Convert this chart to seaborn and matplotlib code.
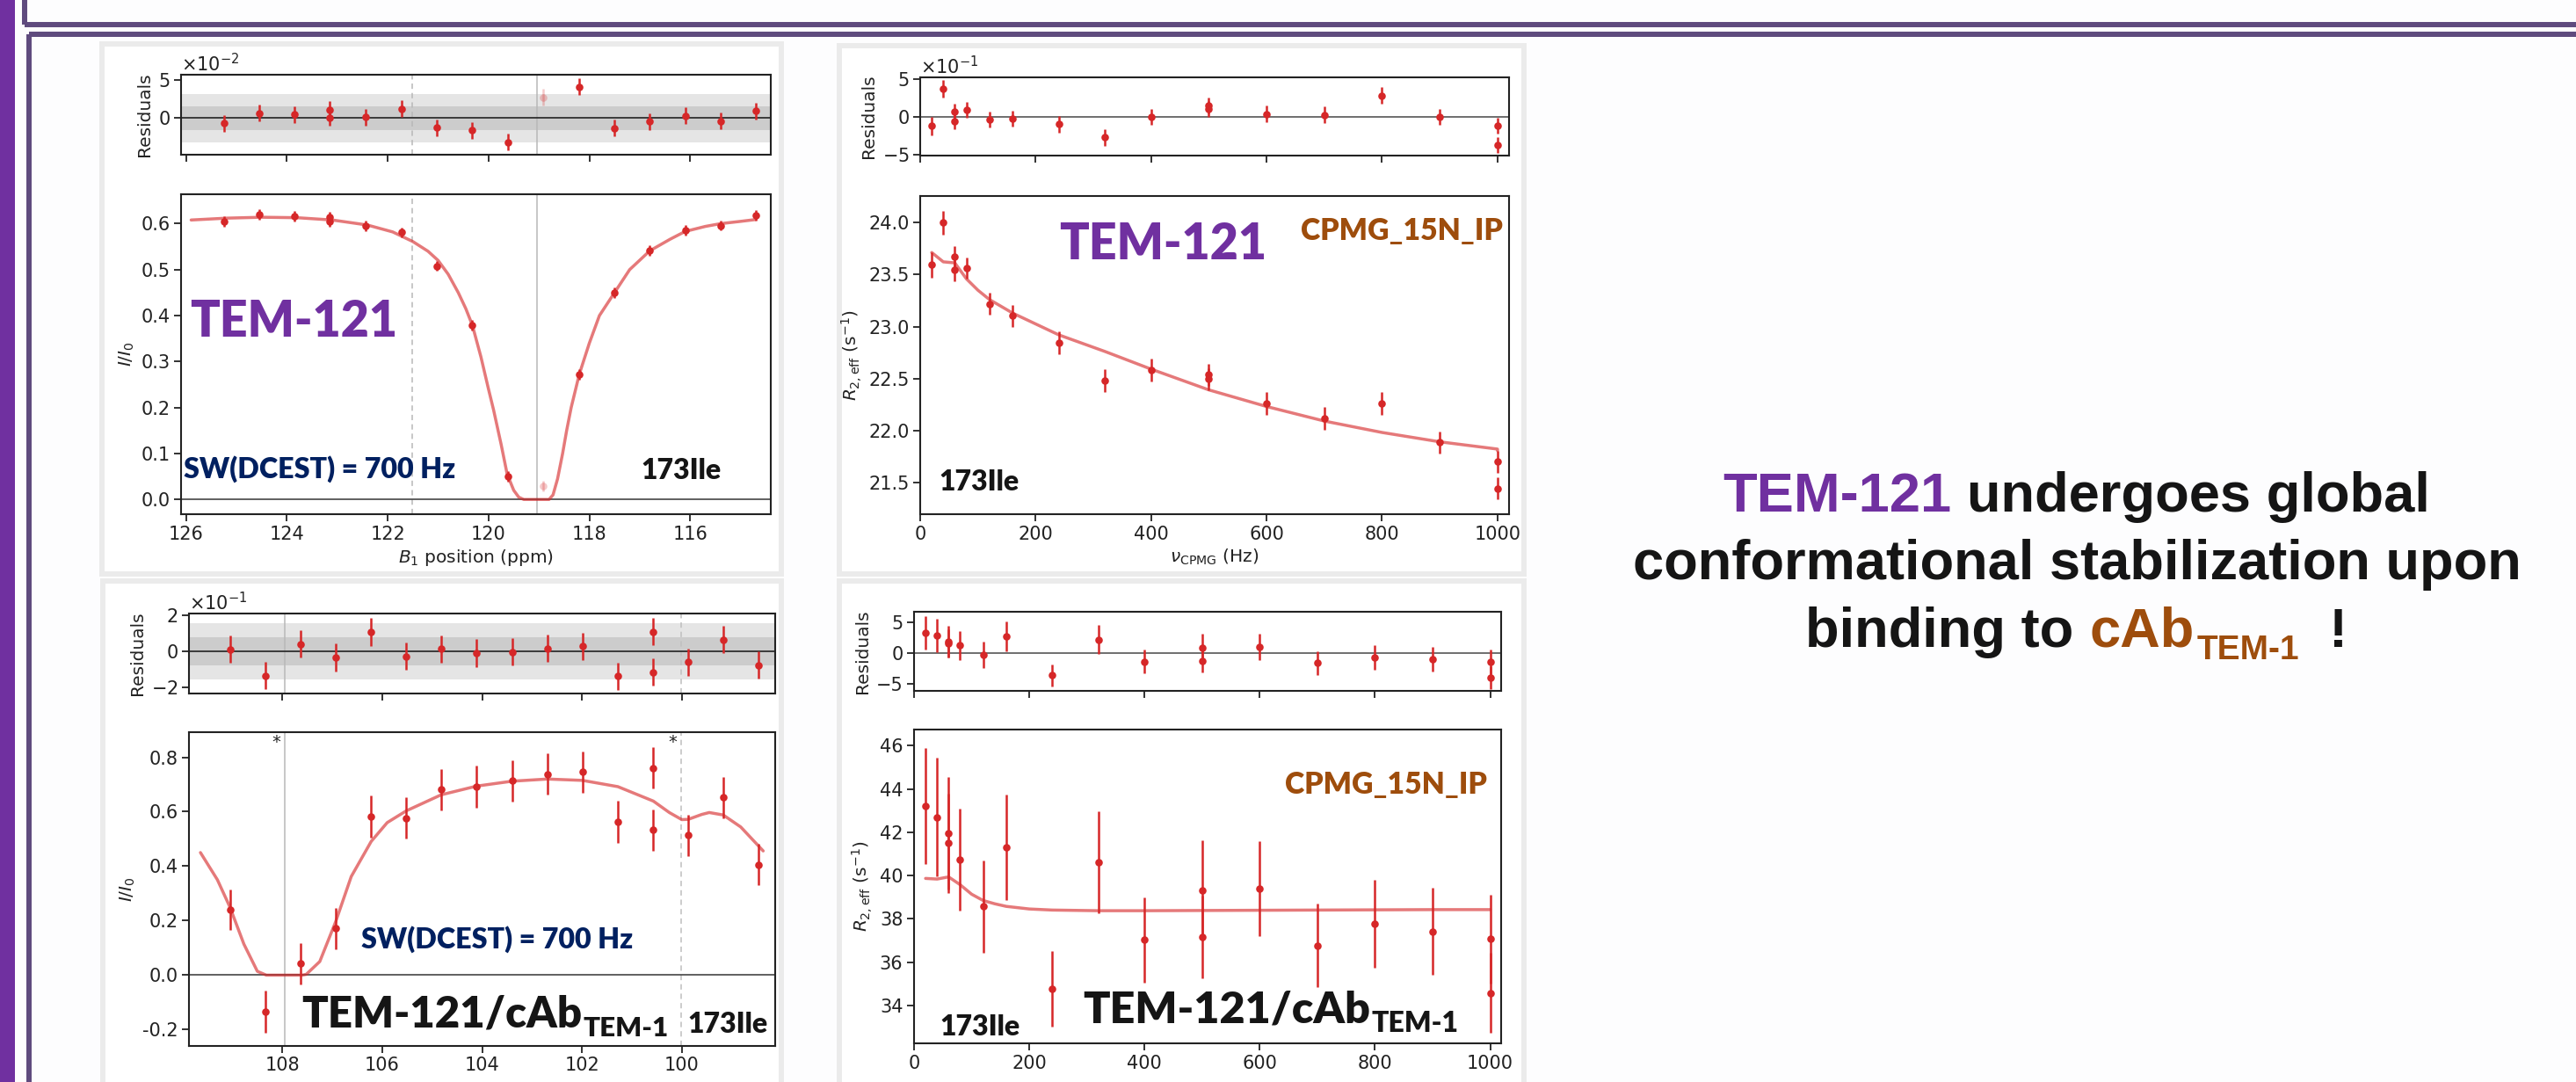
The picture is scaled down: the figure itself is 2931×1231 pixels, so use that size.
import numpy as np
import pandas as pd
import matplotlib
matplotlib.use("Agg")
import matplotlib.pyplot as plt
import seaborn as sns
from matplotlib.patches import Rectangle
from matplotlib.lines import Line2D
from matplotlib.ticker import MultipleLocator, ScalarFormatter, FormatStrFormatter
from matplotlib.transforms import offset_copy

# ---------------- data ----------------
# Panel A: DCEST, TEM-121 (free)
a_ppm = [125.24, 124.55, 123.85, 123.15, 123.15, 122.44, 121.72, 121.02, 120.32,
         119.62, 118.20, 117.50, 116.80, 116.10, 115.40, 114.69]
a_int = [0.605, 0.620, 0.616, 0.615, 0.605, 0.595, 0.581, 0.508, 0.379,
         0.050, 0.272, 0.450, 0.542, 0.586, 0.596, 0.618]
a_err = [0.011, 0.011, 0.011, 0.011, 0.011, 0.011, 0.011, 0.011, 0.011,
         0.011, 0.011, 0.011, 0.011, 0.011, 0.011, 0.011]
a_res = [-0.0068, 0.0068, 0.0050, 0.0109, 0.0009, 0.0014, 0.0123, -0.0123, -0.0159,
         -0.0314, 0.0409, -0.0127, -0.0045, 0.0032, -0.0036, 0.0095]
a_ex_ppm = [118.92]
a_ex_int = [0.029]
a_ex_res = [0.0273]
a_ex_err = [0.011]
a_fit_ppm = [125.9, 125.2, 124.5, 123.8, 123.1, 122.4, 121.9, 121.5, 121.2, 121.0, 120.8,
             120.6, 120.45, 120.32, 120.15, 120.0, 119.9, 119.75, 119.63, 119.5, 119.4,
             119.3, 118.8, 118.72, 118.63, 118.53, 118.45, 118.36, 118.2, 118.0, 117.8,
             117.5, 117.2, 116.8, 116.4, 116.1, 115.7, 115.4, 115.0, 114.7]
a_fit_int = [0.608, 0.612, 0.614, 0.613, 0.608, 0.597, 0.582, 0.561, 0.540, 0.520, 0.490,
             0.450, 0.415, 0.379, 0.310, 0.240, 0.195, 0.120, 0.055, 0.020, 0.005,
             0.0, 0.0, 0.010, 0.045, 0.100, 0.150, 0.200, 0.272, 0.340, 0.400,
             0.450, 0.500, 0.541, 0.566, 0.583, 0.594, 0.600, 0.605, 0.609]
a_band1, a_band2 = 0.0159, 0.0318
a_vsolid, a_vdash = 119.04, 121.51

# Panel B: CPMG, TEM-121 (free)
b_nu = [20, 40, 60, 60, 80, 120, 160, 240, 320, 400, 500, 500, 600, 700, 800, 900, 1000, 1000]
b_r2 = [23.593, 24.000, 23.673, 23.543, 23.563, 23.219, 23.102, 22.842, 22.481, 22.585,
        22.535, 22.495, 22.258, 22.114, 22.258, 21.884, 21.700, 21.440]
b_err = [0.12, 0.117, 0.105, 0.105, 0.105, 0.105, 0.105, 0.108, 0.11, 0.11,
         0.105, 0.105, 0.108, 0.11, 0.108, 0.105, 0.105, 0.105]
b_res = [-0.120, 0.380, 0.069, -0.060, 0.097, -0.032, -0.023, -0.097, -0.273, 0.000,
         0.153, 0.111, 0.042, 0.028, 0.287, 0.000, -0.111, -0.370]
b_fit_nu = [20, 40, 60, 80, 100, 120, 160, 240, 320, 400, 500, 600, 700, 800, 900, 1000, 1000]
b_fit_r2 = [23.713, 23.623, 23.613, 23.460, 23.350, 23.260, 23.130, 22.920, 22.760, 22.590,
            22.390, 22.230, 22.090, 21.980, 21.890, 21.820, 21.805]

# Panel C: DCEST, TEM-121 / cAb complex
c_ppm = [109.05, 108.34, 107.64, 106.93, 106.22, 105.52, 104.82, 104.11, 103.40,
         102.69, 101.99, 101.28, 100.57, 100.57, 99.87, 99.17, 98.46]
c_int = [0.240, -0.133, 0.042, 0.172, 0.583, 0.576, 0.681, 0.692, 0.714,
         0.738, 0.746, 0.563, 0.760, 0.533, 0.514, 0.652, 0.405]
c_err = [0.075, 0.077, 0.076, 0.076, 0.078, 0.076, 0.076, 0.076, 0.076,
         0.076, 0.076, 0.076, 0.076, 0.076, 0.076, 0.076, 0.076]
c_res = [0.011, -0.134, 0.042, -0.033, 0.110, -0.027, 0.014, -0.009, -0.002,
         0.016, 0.029, -0.137, 0.110, -0.114, -0.060, 0.065, -0.076]
c_fit_ppm = [109.64, 109.3, 109.05, 108.77, 108.5, 108.32, 107.6, 107.52, 107.25, 106.93,
             106.62, 106.22, 105.9, 105.52, 104.82, 104.11, 103.40, 102.69, 101.99, 101.28,
             100.57, 100.25, 100.0, 99.87, 99.6, 99.45, 99.17, 98.82, 98.37]
c_fit_int = [0.450, 0.350, 0.250, 0.114, 0.014, 0.0, 0.0, 0.003, 0.050, 0.197,
             0.362, 0.491, 0.560, 0.603, 0.662, 0.694, 0.712, 0.720, 0.715, 0.692,
             0.639, 0.597, 0.571, 0.572, 0.590, 0.597, 0.588, 0.544, 0.456]
c_band1, c_band2 = 0.078, 0.155
c_vsolid, c_vdash = 107.96, 100.02

# Panel D: CPMG, TEM-121 / cAb complex
d_nu = [20, 40, 60, 60, 80, 120, 160, 240, 320, 400, 500, 500, 600, 700, 800, 900, 1000, 1000]
d_r2 = [43.22, 42.70, 41.94, 41.49, 40.75, 38.57, 41.30, 34.77, 40.62, 37.03,
        39.32, 37.16, 39.41, 36.78, 37.77, 37.43, 37.08, 34.58]
d_err = [2.67, 2.73, 2.60, 2.30, 2.35, 2.12, 2.42, 1.75, 2.34, 1.96,
         2.32, 1.90, 2.19, 1.94, 2.03, 2.02, 2.05, 1.85]
d_res = [3.30, 2.83, 1.88, 1.62, 1.26, -0.31, 2.72, -3.61, 2.20, -1.36,
         0.89, -1.26, 0.99, -1.62, -0.68, -0.99, -1.41, -3.93]
d_fit_nu = [20, 40, 60, 80, 100, 120, 140, 160, 200, 240, 320, 400, 500, 600, 700, 800, 900, 1000]
d_fit_r2 = [39.87, 39.84, 39.94, 39.58, 39.14, 38.85, 38.70, 38.58, 38.46, 38.41, 38.38,
            38.38, 38.39, 38.40, 38.41, 38.42, 38.43, 38.43]

# ---------------- style ----------------
RED = '#d62728'
PURPLE = '#7030a0'
BROWN = '#9e4d0c'
NAVY = '#002060'
DARK = '#151515'
FRAME = '#5f4b7e'
TICK_FS = 15
LAB_FS = 14.5

sns.set_theme(style='ticks', rc={
    'axes.linewidth': 1.5, 'axes.edgecolor': '#222222',
    'xtick.major.width': 1.3, 'ytick.major.width': 1.3,
    'xtick.major.size': 5.5, 'ytick.major.size': 5.5,
    'xtick.labelsize': TICK_FS, 'ytick.labelsize': TICK_FS, 'axes.labelsize': LAB_FS,
    'xtick.color': '#222222', 'ytick.color': '#222222',
    'axes.labelcolor': '#222222', 'text.color': '#222222',
})
plt.rcParams['font.family'] = ['DejaVu Sans']
CAL = ['Lato', 'DejaVu Sans']
ARIAL = ['Liberation Sans', 'DejaVu Sans']
BIGW = 'heavy'

W, H = 2931, 1231
fig = plt.figure(figsize=(W / 100, H / 100), dpi=100, facecolor='#fdfdfe')
renderer = fig.canvas.get_renderer()


def fx(x):
    return x / W


def fy(y):
    return 1 - y / H


def rect(x0, y0, x1, y1):
    return [x0 / W, 1 - y1 / H, (x1 - x0) / W, (y1 - y0) / H]


# ---- slide decoration ----
fig.add_artist(Rectangle((0, 0), fx(17), 1, transform=fig.transFigure,
                         facecolor=PURPLE, edgecolor='none', zorder=-5))
for xs, ys in [([fx(28), 1.0], [fy(28), fy(28)]), ([fx(28), fx(28)], [1.0, fy(28)]),
               ([fx(32.5), 1.0], [fy(39), fy(39)]), ([fx(32.5), fx(32.5)], [fy(39), 0.0])]:
    fig.add_artist(Line2D(xs, ys, transform=fig.transFigure, color=FRAME, lw=4.3,
                          solid_capstyle='butt', zorder=-4))
for (x0, y0, x1, y1) in [(116, 50, 889, 653), (955, 52, 1734, 653),
                         (117, 661, 889, 1245), (955, 661, 1734, 1245)]:
    fig.add_artist(Rectangle((fx(x0), fy(y1)), (x1 - x0) / W, (y1 - y0) / H,
                             transform=fig.transFigure, facecolor='white',
                             edgecolor='#ebebeb', lw=4.3, zorder=-3))


def points(ax, x, y, err, alpha=1.0):
    ax.errorbar(x, y, yerr=err, fmt='none', ecolor=RED, elinewidth=1.8,
                capsize=0, alpha=alpha, zorder=3)
    sns.scatterplot(x=x, y=y, ax=ax, color=RED, s=38, linewidth=0,
                    alpha=alpha, zorder=4, legend=False)


def fit(ax, x, y):
    df = pd.DataFrame({'x': x, 'y': y})
    sns.lineplot(data=df, x='x', y='y', ax=ax, sort=False, estimator=None,
                 color=RED, alpha=0.62, lw=2.5, zorder=2)


def sci_formatter(ax):
    f = ScalarFormatter(useMathText=True)
    f.set_powerlimits((0, 0))
    ax.yaxis.set_major_formatter(f)
    ax.yaxis.get_offset_text().set_fontsize(TICK_FS)


def text_sub(ax, x, y, main, sub, size, subsize, drop, color):
    t = ax.text(x, y, main, fontsize=size, fontweight=BIGW, family=CAL,
                color=color, ha='left', va='baseline', zorder=6)
    w = t.get_window_extent(renderer=renderer).width * 72 / fig.dpi
    tr = offset_copy(ax.transData, fig=fig, x=w + 1.0, y=-drop, units='points')
    ax.text(x, y, sub, transform=tr, fontsize=subsize, fontweight=BIGW,
            family=CAL, color=color, ha='left', va='baseline', zorder=6)


def label(ax, x, y, s, size, color, weight='bold'):
    ax.text(x, y, s, fontsize=size, fontweight=weight, family=CAL, color=color,
            ha='left', va='baseline', zorder=6)


# ================= Panel A (top-left) =================
axr = fig.add_axes(rect(206, 85, 877, 176))
axm = fig.add_axes(rect(206, 221, 877, 585))
for ax in (axr, axm):
    ax.set_xlim(126.1, 114.4)
    ax.xaxis.set_major_locator(MultipleLocator(2))
    ax.axvline(a_vdash, color='0.72', lw=1.1, ls=(0, (4, 3)), zorder=1)
    ax.axvline(a_vsolid, color='0.72', lw=1.1, zorder=1)
axr.axhspan(-a_band2, a_band2, color='#e5e5e5', lw=0, zorder=0)
axr.axhspan(-a_band1, a_band1, color='#cccccc', lw=0, zorder=0)
axr.axhline(0, color='#222222', lw=1.2, zorder=1)
points(axr, a_ppm, a_res, a_err)
points(axr, a_ex_ppm, a_ex_res, a_ex_err, alpha=0.25)
axr.set_ylim(-0.0477, 0.0568)
axr.yaxis.set_major_locator(MultipleLocator(0.05))
sci_formatter(axr)
axr.tick_params(labelbottom=False)
axr.set_xlabel('')
axr.set_ylabel('Residuals')

axm.axhline(0, color='#444444', lw=1.2, zorder=1)
fit(axm, a_fit_ppm, a_fit_int)
points(axm, a_ppm, a_int, a_err)
points(axm, a_ex_ppm, a_ex_int, a_ex_err, alpha=0.25)
axm.set_ylim(-0.032, 0.664)
axm.yaxis.set_major_locator(MultipleLocator(0.1))
axm.yaxis.set_major_formatter(FormatStrFormatter('%.1f'))
axm.set_xlabel('$B_1$ position (ppm)')
axm.set_ylabel('$I/I_0$')
label(axm, 125.93, 0.354, 'TEM-121', 40, PURPLE, BIGW)
label(axm, 126.05, 0.048, 'SW(DCEST) = 700 Hz', 23.2, NAVY, BIGW)
label(axm, 116.97, 0.045, '173Ile', 23, DARK, BIGW)

# ================= Panel B (top-right) =================
bxr = fig.add_axes(rect(1047, 88, 1717, 177))
bxm = fig.add_axes(rect(1047, 223, 1717, 585))
for ax in (bxr, bxm):
    ax.set_xlim(0, 1020)
    ax.xaxis.set_major_locator(MultipleLocator(200))
bxr.axhline(0, color='#555555', lw=1.2, zorder=1)
points(bxr, b_nu, b_res, b_err)
bxr.set_ylim(-0.514, 0.528)
bxr.yaxis.set_major_locator(MultipleLocator(0.5))
sci_formatter(bxr)
bxr.tick_params(labelbottom=False)
bxr.set_xlabel('')
bxr.set_ylabel('Residuals')

fit(bxm, b_fit_nu, b_fit_r2)
points(bxm, b_nu, b_r2, b_err)
bxm.set_ylim(21.193, 24.257)
bxm.yaxis.set_major_locator(MultipleLocator(0.5))
bxm.yaxis.set_major_formatter(FormatStrFormatter('%.1f'))
bxm.set_xlabel(r'$\nu_{\mathrm{CPMG}}$ (Hz)')
bxm.set_ylabel(r'$R_{2,\mathrm{eff}}$ (s$^{-1}$)')
label(bxm, 241, 23.646, 'TEM-121', 40, PURPLE, BIGW)
label(bxm, 659, 23.83, 'CPMG_15N_IP', 24.3, BROWN, BIGW)
label(bxm, 32, 21.42, '173Ile', 23, DARK, BIGW)

# ================= Panel C (bottom-left) =================
cxr = fig.add_axes(rect(215, 698, 882, 789))
cxm = fig.add_axes(rect(215, 833, 882, 1190))
for ax in (cxr, cxm):
    ax.set_xlim(109.87, 98.13)
    ax.xaxis.set_major_locator(MultipleLocator(2))
    ax.axvline(c_vdash, color='0.75', lw=1.1, ls=(0, (4, 3)), zorder=1)
    ax.axvline(c_vsolid, color='0.72', lw=1.1, zorder=1)
cxr.axhspan(-c_band2, c_band2, color='#e5e5e5', lw=0, zorder=0)
cxr.axhspan(-c_band1, c_band1, color='#cccccc', lw=0, zorder=0)
cxr.axhline(0, color='#222222', lw=1.2, zorder=1)
points(cxr, c_ppm, c_res, c_err)
cxr.set_ylim(-0.233, 0.21)
cxr.yaxis.set_major_locator(MultipleLocator(0.2))
sci_formatter(cxr)
cxr.tick_params(labelbottom=False)
cxr.set_xlabel('')
cxr.set_ylabel('Residuals')

cxm.axhline(0, color='#444444', lw=1.2, zorder=1)
fit(cxm, c_fit_ppm, c_fit_int)
points(cxm, c_ppm, c_int, c_err)
cxm.set_ylim(-0.26, 0.892)
cxm.yaxis.set_major_locator(MultipleLocator(0.2))
cxm.yaxis.set_major_formatter(FormatStrFormatter('%.1f'))
cxm.set_xlabel('')
cxm.set_ylabel('$I/I_0$')
cxm.text(108.12, 0.885, '*', ha='center', va='top', fontsize=14, color='#222222')
cxm.text(100.19, 0.885, '*', ha='center', va='top', fontsize=14, color='#222222')
label(cxm, 106.42, 0.100, 'SW(DCEST) = 700 Hz', 23.2, NAVY, BIGW)
text_sub(cxm, 107.61, -0.19, 'TEM-121/cAb', 'TEM-1', 35.3, 22.5, 7.4, DARK)
label(cxm, 99.89, -0.212, '173Ile', 23, DARK, BIGW)

# ================= Panel D (bottom-right) =================
dxr = fig.add_axes(rect(1040, 696, 1708, 786))
dxm = fig.add_axes(rect(1040, 830, 1708, 1187))
for ax in (dxr, dxm):
    ax.set_xlim(0, 1019)
    ax.xaxis.set_major_locator(MultipleLocator(200))
dxr.axhline(0, color='#555555', lw=1.2, zorder=1)
points(dxr, d_nu, d_res, d_err)
dxr.set_ylim(-6.13, 6.73)
dxr.yaxis.set_major_locator(MultipleLocator(5))
dxr.tick_params(labelbottom=False)
dxr.set_xlabel('')
dxr.set_ylabel('Residuals')

fit(dxm, d_fit_nu, d_fit_r2)
points(dxm, d_nu, d_r2, d_err)
dxm.set_ylim(32.26, 46.74)
dxm.yaxis.set_major_locator(MultipleLocator(2))
dxm.set_xlabel('')
dxm.set_ylabel(r'$R_{2,\mathrm{eff}}$ (s$^{-1}$)')
label(dxm, 644, 43.78, 'CPMG_15N_IP', 24.3, BROWN, BIGW)
label(dxm, 45, 32.62, '173Ile', 23, DARK, BIGW)
text_sub(dxm, 293, 33.22, 'TEM-121/cAb', 'TEM-1', 36.2, 23, 7.4, DARK)

# ================= right-hand message =================
FS, SUBFS = 45.5, 28
kw = dict(fontsize=FS, fontweight='bold', family=ARIAL, va='baseline')


def width(s, **k):
    t = fig.text(0, 0, s, **k)
    w = t.get_window_extent(renderer=renderer).width
    t.remove()
    return w


cx = 2363
b1, b2, b3 = 582, 659, 736
full1 = 'TEM-121 undergoes global'
w1 = width(full1, **kw)
s1 = cx - w1 / 2
fig.text(fx(s1), fy(b1), 'TEM-121', color=PURPLE, ha='left', **kw)
fig.text(fx(s1 + w1), fy(b1), 'undergoes global', color=DARK, ha='right', **kw)

fig.text(fx(cx), fy(b2), 'conformational stabilization upon', color=DARK, ha='center', **kw)

kws = dict(fontsize=SUBFS, fontweight='bold', family=ARIAL, va='baseline')
wA = width('binding to cAb', **kw)
wS = width('TEM-1', **kws)
wE = width('!', **kw)
gap1, gap2 = 3, 34
total = wA + gap1 + wS + gap2 + wE
s3 = cx - total / 2
fig.text(fx(s3), fy(b3), 'binding to', color=DARK, ha='left', **kw)
fig.text(fx(s3 + wA), fy(b3), 'cAb', color=BROWN, ha='right', **kw)
fig.text(fx(s3 + wA + gap1), fy(b3 + 14), 'TEM-1', color=BROWN, ha='left', **kws)
fig.text(fx(s3 + wA + gap1 + wS + gap2), fy(b3), '!', color=DARK, ha='left', **kw)

fig.savefig('out.png', dpi=100, facecolor=fig.get_facecolor())
